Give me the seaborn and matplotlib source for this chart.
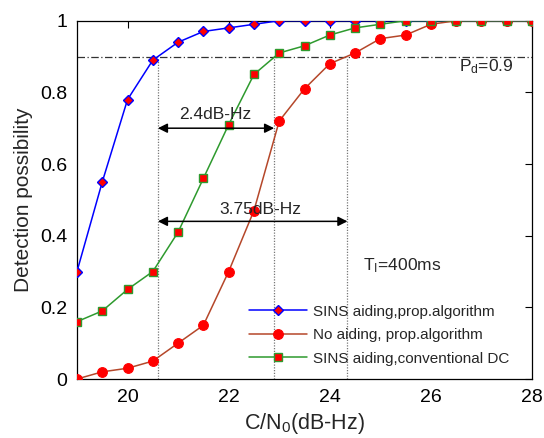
import numpy as np
import pandas as pd
import matplotlib
matplotlib.use("Agg")
import matplotlib.pyplot as plt
import seaborn as sns

# ---- data ----
cn0 = [19, 19.5, 20, 20.5, 21, 21.5, 22, 22.5, 23, 23.5, 24, 24.5, 25,
       25.5, 26, 26.5, 27, 27.5, 28]
sins_prop = [0.30, 0.55, 0.78, 0.89, 0.94, 0.97, 0.98, 0.99, 1.0, 1.0, 1.0,
             1.0, 1.0, 1.0, 1.0, 1.0, 1.0, 1.0, 1.0]
noaid_prop = [0.0, 0.02, 0.03, 0.05, 0.10, 0.15, 0.30, 0.47, 0.72, 0.81, 0.88,
              0.91, 0.95, 0.96, 0.99, 1.0, 1.0, 1.0, 1.0]
sins_conv = [0.16, 0.19, 0.25, 0.30, 0.41, 0.56, 0.71, 0.85, 0.91, 0.93, 0.96,
             0.98, 0.99, 1.0, 1.0, 1.0, 1.0, 1.0, 1.0]
labels = ["SINS aiding,prop.algorithm", "No aiding, prop.algorithm",
          "SINS aiding,conventional DC"]
x_ticks = [20, 22, 24, 26, 28]
y_ticks = [0, 0.2, 0.4, 0.6, 0.8, 1]
pd_level = 0.9
vlines_x = [20.6, 22.9, 24.35]

sns.set_style("white")
plt.rcParams["font.family"] = ["Liberation Sans", "DejaVu Sans"]
plt.rcParams["mathtext.fontset"] = "custom"
plt.rcParams["mathtext.rm"] = "Liberation Sans"
plt.rcParams["mathtext.it"] = "Liberation Sans"

fig = plt.figure(figsize=(5.44, 4.38), dpi=100)
ax = fig.add_axes([0.1415, 0.1347, 0.8365, 0.818])

# reference lines
ax.axhline(pd_level, color="#333333", lw=0.9, ls=(0, (6, 2, 1, 2)), zorder=1)
for xv in vlines_x:
    ax.plot([xv, xv], [0, pd_level], color="#777777", lw=0.9, ls=(0, (1, 1.2)), zorder=1)

df = pd.DataFrame({"cn0": cn0, "a": sins_prop, "b": noaid_prop, "c": sins_conv})
sns.lineplot(data=df, x="cn0", y="a", ax=ax, color="#0000FF", lw=1.1,
             marker="D", markersize=5.5, markerfacecolor="#FF0000",
             markeredgecolor="#0000FF", markeredgewidth=1.0, label=labels[0], zorder=3)
sns.lineplot(data=df, x="cn0", y="b", ax=ax, color="#B5472A", lw=1.1,
             marker="o", markersize=7, markerfacecolor="#FF0000",
             markeredgecolor="#FF0000", markeredgewidth=0.8, label=labels[1], zorder=3)
sns.lineplot(data=df, x="cn0", y="c", ax=ax, color="#2E9A2E", lw=1.1,
             marker="s", markersize=6, markerfacecolor="#FF0000",
             markeredgecolor="#2E9A2E", markeredgewidth=1.0, label=labels[2], zorder=3)

# arrows
arrow_kw = dict(arrowstyle="<|-|>", color="black", lw=1.1, mutation_scale=14,
                shrinkA=0, shrinkB=0)
ax.annotate("", xy=(vlines_x[0], 0.70), xytext=(vlines_x[1], 0.70), arrowprops=arrow_kw)
ax.annotate("", xy=(vlines_x[0], 0.44), xytext=(vlines_x[2], 0.44), arrowprops=arrow_kw)
ax.text(21.74, 0.737, "2.4dB-Hz", ha="center", va="center", fontsize=12.5)
ax.text(22.63, 0.473, "3.75dB-Hz", ha="center", va="center", fontsize=12.5)
ax.text(26.55, 0.872, r"P$_\mathrm{d}$=0.9", ha="left", va="center", fontsize=12.5)
ax.text(24.65, 0.315, r"T$_\mathrm{I}$=400ms", ha="left", va="center", fontsize=12.5)

ax.set_xlim(19, 28)
ax.set_ylim(0, 1)
ax.set_xticks(x_ticks)
ax.set_yticks(y_ticks)
ax.set_yticklabels(["0", "0.2", "0.4", "0.6", "0.8", "1"])
ax.tick_params(direction="in", length=5, width=0.8, top=True, right=True,
               labelsize=14, colors="black", pad=7)
for s in ax.spines.values():
    s.set_color("black")
    s.set_linewidth(0.9)
ax.set_xlabel(r"C/N$_\mathrm{0}$(dB-Hz)", fontsize=15.5, labelpad=4)
ax.set_ylabel("Detection possibility", fontsize=15, labelpad=5)

leg = ax.legend(loc="upper left", bbox_to_anchor=(0.377, 0.207), frameon=False,
                fontsize=11, handlelength=3.8, handletextpad=0.4,
                labelspacing=0.62, borderpad=0, borderaxespad=0)

fig.savefig("out.png", dpi=100)
